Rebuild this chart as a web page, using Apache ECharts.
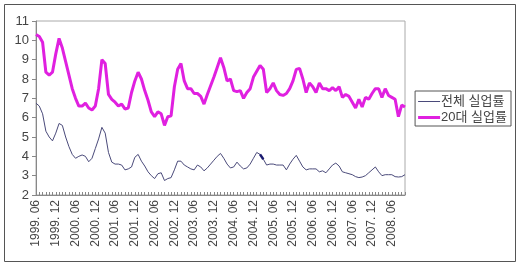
<!DOCTYPE html>
<html><head><meta charset="utf-8">
<script src="https://cdn.jsdelivr.net/npm/echarts@6/dist/echarts.min.js"></script>
<style>html,body{margin:0;padding:0;background:#fff}#c{width:520px;height:266px}</style>
</head><body><div id="c"></div>
<script>
// Months 1999.06 .. 2008.10
const startYear = 1999, startMonth = 6, monthCount = 113;
const categories = [];
for (let k = 0; k < monthCount; k++) {
  const m = startMonth - 1 + k;
  const y = startYear + Math.floor(m / 12);
  const mm = (m % 12) + 1;
  categories.push(y + '. ' + (mm < 10 ? '0' + mm : '' + mm));
}
const seriesNames = ['전체 실업률', '20대 실업률'];
const totalRate = [
6.75,6.6,6.2,5.3,5.0,4.8,5.2,5.7,5.6,5.0,4.5,4.1,3.9,4.0,4.07,4.0,3.72,3.9,4.4,4.9,
5.5,5.2,4.2,3.7,3.6,3.6,3.55,3.3,3.35,3.45,3.95,4.1,3.75,3.5,3.2,3.0,2.85,3.1,3.15,2.75,
2.85,2.9,3.3,3.75,3.75,3.55,3.45,3.35,3.3,3.55,3.45,3.25,3.4,3.6,3.8,4.0,4.15,3.9,3.6,3.4,
3.45,3.7,3.5,3.35,3.4,3.6,3.9,4.2,4.1,3.85,3.55,3.6,3.6,3.55,3.55,3.55,3.3,3.6,3.85,4.05,
3.75,3.45,3.3,3.35,3.35,3.35,3.2,3.25,3.15,3.35,3.55,3.65,3.5,3.2,3.15,3.1,3.05,2.95,2.9,2.93,
3.0,3.15,3.3,3.45,3.2,3.0,3.05,3.05,3.05,2.95,2.93,2.95,3.05
];
const youthRate = [
10.3,10.2,9.9,8.35,8.2,8.35,9.3,10.1,9.6,8.9,8.2,7.5,7.0,6.6,6.6,6.75,6.5,6.4,6.6,7.5,
9.0,8.8,7.2,6.95,6.8,6.6,6.7,6.45,6.5,7.3,7.9,8.35,8.0,7.4,6.9,6.3,6.05,6.3,6.2,5.6,
6.05,6.1,7.6,8.5,8.8,7.9,7.5,7.5,7.25,7.25,7.1,6.7,7.2,7.65,8.1,8.6,9.1,8.6,7.9,8.0,
7.4,7.35,7.4,7.0,7.3,7.5,8.1,8.4,8.7,8.5,7.3,7.5,7.8,7.4,7.2,7.15,7.25,7.5,7.9,8.5,
8.55,8.0,7.3,7.8,7.6,7.3,7.8,7.5,7.5,7.4,7.55,7.4,7.6,7.05,7.2,7.1,6.8,6.5,6.95,6.55,
7.05,6.95,7.25,7.5,7.5,7.05,7.5,7.15,7.05,6.95,6.05,6.65,6.55
];
// the darker, selected-looking piece of the total line in the original
const highlightIdx = [68, 69];
const yTicks = {min: 2, max: 11, interval: 1};

const highlightData = totalRate.map((v, k) => highlightIdx.indexOf(k) >= 0 ? v : '-');

const chart = echarts.init(document.getElementById('c'), null, {renderer: 'canvas'});
const font = '"Liberation Sans", "Noto Sans CJK KR", sans-serif';
chart.setOption({
  animation: false,
  backgroundColor: '#fff',
  graphic: [{
    type: 'rect', shape: {x: 4.5, y: 4.5, width: 511, height: 257},
    style: {fill: 'none', stroke: '#555', lineWidth: 1}, silent: true
  }],
  grid: {left: 36, top: 21, right: 115, bottom: 71, show: true, borderColor: '#aaa', borderWidth: 1, backgroundColor: 'transparent'},
  legend: {
    orient: 'vertical', right: 9, top: 91, width: 98,
    padding: [4, 4, 2, 3], itemGap: 3, itemWidth: 22, itemHeight: 14,
    symbolKeepAspect: true,
    borderColor: '#555', borderWidth: 1, borderRadius: 0,
    textStyle: {fontSize: 13, color: '#444', fontFamily: font, padding: [0, 0, 0, -4]},
    data: [
      {name: seriesNames[0], icon: 'path://M0,0H22V1H0Z', itemStyle: {color: '#4a4a7a', borderWidth: 0}},
      {name: seriesNames[1], icon: 'path://M0,0H22V3H0Z', itemStyle: {color: '#e020e0', borderWidth: 0}}
    ]
  },
  xAxis: {
    type: 'category', data: categories, boundaryGap: false,
    axisLine: {lineStyle: {color: '#888', width: 1}},
    axisTick: {show: true, inside: true, length: 3, interval: 0, lineStyle: {color: '#888'}},
    axisLabel: {interval: 5, rotate: 90, fontSize: 12, color: '#444', fontFamily: font, margin: 5},
    splitLine: {show: false}
  },
  yAxis: {
    type: 'value', min: yTicks.min, max: yTicks.max, interval: yTicks.interval,
    axisLine: {show: true, lineStyle: {color: '#888', width: 1}},
    axisTick: {show: true, length: 4, lineStyle: {color: '#888'}},
    axisLabel: {fontSize: 13, color: '#444', fontFamily: font, margin: 7},
    splitLine: {show: false}
  },
  series: [
    {name: seriesNames[0], type: 'line', data: totalRate, symbol: 'none', smooth: false,
     lineStyle: {color: '#4a4a7a', width: 1}, itemStyle: {color: '#4a4a7a'}},
    {name: seriesNames[1], type: 'line', data: youthRate, symbol: 'none', smooth: false,
     lineStyle: {color: '#e020e0', width: 3}, itemStyle: {color: '#e020e0'}},
    {name: 'sel', type: 'line', data: highlightData, symbol: 'none', connectNulls: false,
     lineStyle: {color: '#1a1a70', width: 2.5}, itemStyle: {color: '#1a1a70'}}
  ]
});
</script></body></html>
